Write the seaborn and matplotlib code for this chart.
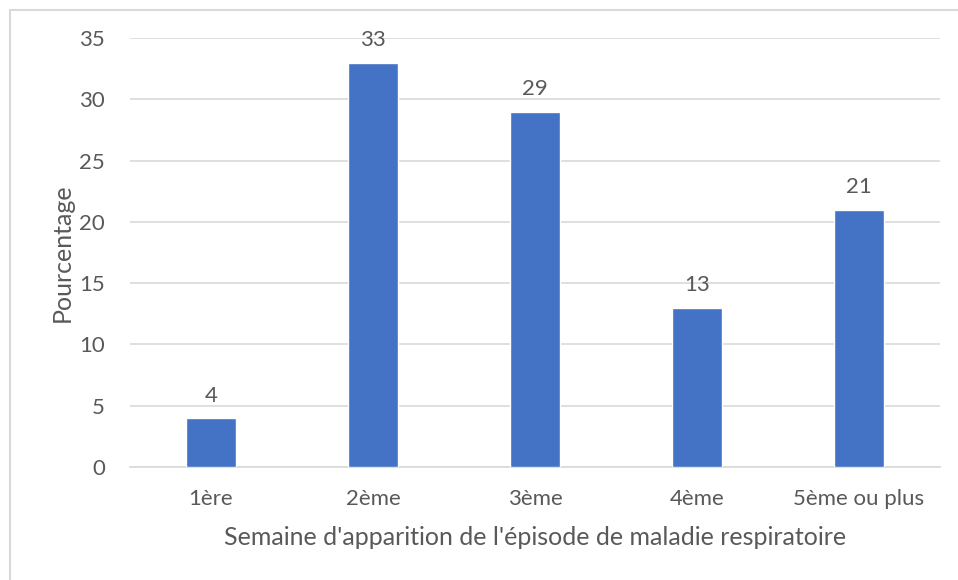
import matplotlib
matplotlib.use("Agg")
import matplotlib.pyplot as plt
import seaborn as sns
import pandas as pd
from matplotlib.patches import Rectangle

# data
weeks = ["1ère", "2ème", "3ème", "4ème", "5ème ou plus"]
percent = [4, 33, 29, 13, 21]
yticks = [0, 5, 10, 15, 20, 25, 30, 35]

df = pd.DataFrame({"week": weeks, "pct": percent})

sns.set_theme(style="white")
plt.rcParams["font.family"] = ["Lato", "DejaVu Sans"]
grey = "#595959"

fig = plt.figure(figsize=(9.58, 5.8), dpi=100)
ax = fig.add_axes([130 / 958, 113 / 580, 810 / 958, 429 / 580])

sns.barplot(data=df, x="week", y="pct", color="#4472C4", width=0.31,
            saturation=1, ax=ax, zorder=3)

ax.set_ylim(0, 35)
ax.set_yticks(yticks)
ax.set_xlim(-0.5, len(weeks) - 0.5)
ax.yaxis.grid(True, color="#d9d9d9", linewidth=1.2, zorder=0)
ax.set_axisbelow(True)
for s in ["top", "right", "left"]:
    ax.spines[s].set_visible(False)
ax.spines["bottom"].set_color("#d9d9d9")
ax.spines["bottom"].set_linewidth(1.2)
ax.tick_params(axis="both", length=0, labelsize=16, labelcolor=grey)
ax.tick_params(axis="y", pad=18)
ax.tick_params(axis="x", pad=16)

for i, v in enumerate(percent):
    ax.text(i, v + 1.0, str(v), ha="center", va="bottom", fontsize=16, color=grey)

ax.set_xlabel("Semaine d'apparition de l'épisode de maladie respiratoire",
              fontsize=18, color=grey, labelpad=12)
ax.set_ylabel("Pourcentage", fontsize=18, color=grey, labelpad=4)

fig.patches.append(Rectangle((10 / 958, -0.1), 1.2, (570 / 580) + 0.1,
                             transform=fig.transFigure, fill=False,
                             edgecolor="#d9d9d9", linewidth=1.5))

fig.savefig("out.png", dpi=100)
